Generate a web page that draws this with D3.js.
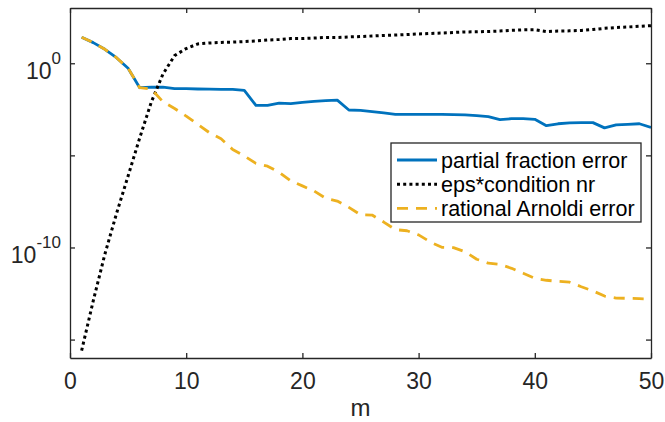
<!DOCTYPE html>
<html>
<head>
<meta charset="utf-8">
<script src="https://cdn.jsdelivr.net/npm/d3@7"></script>
<style>
  body { margin: 0; background: #fff; }
  svg { display: block; font-family: 'Liberation Sans', Arial, sans-serif; }
</style>
</head>
<body>
<svg id="chart" width="665" height="422"></svg>
<script>
'use strict'

// m = 1..50
const mValues = d3.range(1, 51)

const partialFraction = [
  2.6e1, 1.32e1, 5.75, 2.0, 5.4e-1, 4.7e-2, 5.1e-2, 5.0e-2, 4.2e-2, 4.2e-2,
  4.0e-2, 3.9e-2, 3.8e-2, 3.8e-2, 3.4e-2, 5.2e-3, 5.2e-3, 6.9e-3, 6.5e-3, 7.6e-3,
  8.5e-3, 9.3e-3, 1.0e-2, 2.9e-3, 2.75e-3, 2.35e-3, 2.0e-3, 1.7e-3, 1.7e-3, 1.7e-3,
  1.7e-3, 1.7e-3, 1.62e-3, 1.58e-3, 1.45e-3, 1.26e-3, 8.7e-4, 9.8e-4, 9.8e-4, 9.1e-4,
  4.1e-4, 5.2e-4, 5.75e-4, 6.0e-4, 6.0e-4, 3.1e-4, 4.5e-4, 4.8e-4, 5.2e-4, 3.3e-4
]

const epsCondition = [
  2.5e-16, 1.26e-13, 4.3e-11, 6.9e-9, 7.6e-7, 8.9e-5, 7.9e-3, 2.6e-1, 2.6, 6.3,
  11.2, 12.6, 13.5, 14.1, 15.1, 16.2, 18.2, 19.5, 21.9, 21.9,
  23.4, 25.1, 25.1, 26.9, 28.2, 30.2, 32.4, 33.9, 36.3, 38.9,
  41.7, 43.7, 46.8, 50.1, 51.0, 53.0, 56.2, 62.0, 65.0, 66.0,
  52.5, 56.2, 57.5, 60.3, 67.6, 79.0, 87.1, 93.3, 102, 110
]

const rationalArnoldi = [
  2.6e1, 1.32e1, 5.75, 2.0, 5.4e-1, 4.7e-2, 4.0e-2, 8.1e-3, 3.5e-3, 1.35e-3,
  4.8e-4, 1.7e-4, 7.9e-5, 2.1e-5, 9.3e-6, 3.7e-6, 2.6e-6, 1.2e-6, 4.1e-7, 2.2e-7,
  1.17e-7, 4.7e-8, 3.3e-8, 1.5e-8, 6.0e-9, 5.75e-9, 2.4e-9, 9.3e-10, 8.1e-10, 4.8e-10,
  2.0e-10, 1.02e-10, 9.8e-11, 5.9e-11, 2.3e-11, 1.4e-11, 1.2e-11, 7.4e-12, 4.0e-12, 2.1e-12,
  1.66e-12, 1.45e-12, 1.3e-12, 7.4e-13, 4.4e-13, 2.3e-13, 1.8e-13, 1.74e-13, 1.66e-13, 1.6e-13
]

const xTicks = [0, 10, 20, 30, 40, 50]
const yTicks = [1e-15, 1e-10, 1e-5, 1e0]
const yLabels = { '1e-10': '-10', '1': '0' }

const legendNames = ['partial fraction error', 'eps*condition nr', 'rational Arnoldi error']

const axisColor = '#262626'
const margin = { left: 70, top: 8, right: 14, bottom: 64 }
const W = 665
const H = 422
const plotW = W - margin.left - margin.right
const plotH = H - margin.top - margin.bottom

const svg = d3.select('#chart')

const x = d3.scaleLinear().domain([0, 50]).range([margin.left, margin.left + plotW])
const y = d3.scaleLog().domain([1e-16, 1e3]).range([margin.top + plotH, margin.top])

svg.append('defs').append('clipPath').attr('id', 'clip')
  .append('rect')
  .attr('x', margin.left).attr('y', margin.top)
  .attr('width', plotW).attr('height', plotH)

const series = [
  { name: legendNames[0], values: partialFraction, color: '#0072BD', width: 2.8, dash: null },
  { name: legendNames[1], values: epsCondition, color: '#000000', width: 3, dash: '3,3.2' },
  { name: legendNames[2], values: rationalArnoldi, color: '#EDB120', width: 2.8, dash: '11,8' }
]

const line = d3.line()
  .x((d, i) => x(mValues[i]))
  .y(d => y(d))

const plot = svg.append('g').attr('clip-path', 'url(#clip)')
series.forEach(s => {
  plot.append('path')
    .datum(s.values)
    .attr('d', line)
    .attr('fill', 'none')
    .attr('stroke', s.color)
    .attr('stroke-width', s.width)
    .attr('stroke-dasharray', s.dash)
    .attr('stroke-linejoin', 'round')
})

// axes
const styleAxis = g => {
  g.select('.domain').attr('stroke', axisColor).attr('stroke-width', 1.3)
  g.selectAll('.tick line').attr('stroke', axisColor).attr('stroke-width', 1.3)
  g.selectAll('.tick text').attr('fill', axisColor)
}

svg.append('g')
  .attr('transform', `translate(0,${margin.top + plotH})`)
  .call(d3.axisBottom(x).tickValues(xTicks).tickSizeInner(-5).tickSizeOuter(0).tickPadding(15))
  .call(styleAxis)
  .call(g => g.selectAll('.tick text').attr('font-size', 23).attr('font-family', 'Liberation Sans, Arial, sans-serif'))

svg.append('g')
  .attr('transform', `translate(0,${margin.top})`)
  .call(d3.axisTop(x).tickValues(xTicks).tickSizeInner(-5).tickSizeOuter(0).tickFormat(''))
  .call(styleAxis)

const yAxisG = svg.append('g')
  .attr('transform', `translate(${margin.left},0)`)
  .call(d3.axisLeft(y).tickValues(yTicks).tickSizeInner(-5).tickSizeOuter(0).tickFormat(''))
  .call(styleAxis)

svg.append('g')
  .attr('transform', `translate(${margin.left + plotW},0)`)
  .call(d3.axisRight(y).tickValues(yTicks).tickSizeInner(-5).tickSizeOuter(0).tickFormat(''))
  .call(styleAxis)

// y tick labels with superscript exponents
yAxisG.selectAll('.tick').each(function (d) {
  const sup = yLabels[String(d)]
  if (sup === undefined) return
  const t = d3.select(this).append('text')
    .attr('x', -9)
    .attr('y', 15)
    .attr('text-anchor', 'end')
    .attr('fill', axisColor)
    .attr('font-size', 23)
  t.append('tspan').text('10')
  t.append('tspan').attr('font-size', 17).attr('dy', -15).text(sup)
})

svg.append('text')
  .attr('x', x(25))
  .attr('y', 416)
  .attr('text-anchor', 'middle')
  .attr('fill', axisColor)
  .attr('font-size', 24)
  .text('m')

// legend
const lg = svg.append('g').attr('transform', 'translate(391,143)')
lg.append('rect')
  .attr('width', 250).attr('height', 79)
  .attr('fill', '#fff')
  .attr('stroke', axisColor)
  .attr('stroke-width', 1.3)

series.forEach((s, i) => {
  const cy = 17 + i * 24.2
  lg.append('line')
    .attr('x1', 6).attr('x2', 46)
    .attr('y1', cy).attr('y2', cy)
    .attr('stroke', s.color)
    .attr('stroke-width', s.width)
    .attr('stroke-dasharray', s.dash)
  lg.append('text')
    .attr('x', 50)
    .attr('y', cy + 7.5)
    .attr('fill', '#000')
    .attr('font-size', 21.5)
    .text(s.name)
})
</script>
</body>
</html>
